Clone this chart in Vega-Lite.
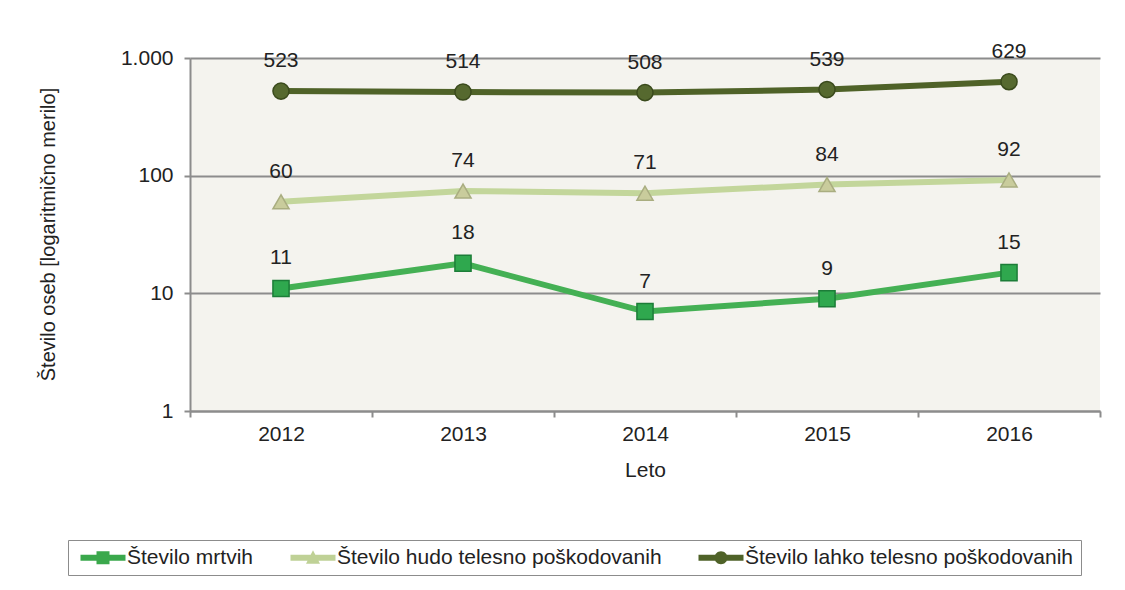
{
  "$schema": "https://vega.github.io/schema/vega-lite/v6.json",
  "autosize": "none",
  "width": 910,
  "height": 353,
  "padding": {"left": 190, "top": 58, "right": 25, "bottom": 179},
  "background": "white",
  "config": {
    "view": {"fill": "#f4f3ee", "stroke": null},
    "font": "Liberation Sans"
  },
  "data": {
    "values": [
      {"leto": "2012", "serija": "Število mrtvih", "vrednost": 11},
      {"leto": "2013", "serija": "Število mrtvih", "vrednost": 18},
      {"leto": "2014", "serija": "Število mrtvih", "vrednost": 7},
      {"leto": "2015", "serija": "Število mrtvih", "vrednost": 9},
      {"leto": "2016", "serija": "Število mrtvih", "vrednost": 15},
      {"leto": "2012", "serija": "Število hudo telesno poškodovanih", "vrednost": 60},
      {"leto": "2013", "serija": "Število hudo telesno poškodovanih", "vrednost": 74},
      {"leto": "2014", "serija": "Število hudo telesno poškodovanih", "vrednost": 71},
      {"leto": "2015", "serija": "Število hudo telesno poškodovanih", "vrednost": 84},
      {"leto": "2016", "serija": "Število hudo telesno poškodovanih", "vrednost": 92},
      {"leto": "2012", "serija": "Število lahko telesno poškodovanih", "vrednost": 523},
      {"leto": "2013", "serija": "Število lahko telesno poškodovanih", "vrednost": 514},
      {"leto": "2014", "serija": "Število lahko telesno poškodovanih", "vrednost": 508},
      {"leto": "2015", "serija": "Število lahko telesno poškodovanih", "vrednost": 539},
      {"leto": "2016", "serija": "Število lahko telesno poškodovanih", "vrednost": 629}
    ]
  },
  "encoding": {
    "x": {
      "field": "leto", "type": "nominal",
      "scale": {"paddingInner": 0, "paddingOuter": 0},
      "axis": {
        "title": "Leto", "labelAngle": 0, "tickBand": "extent",
        "domainColor": "#8c8c8c", "domainWidth": 2, "tickColor": "#8c8c8c", "tickWidth": 2, "tickSize": 6,
        "labelFontSize": 21, "labelColor": "#222222", "labelPadding": 6,
        "titleFontSize": 21, "titleFontWeight": "normal", "titleColor": "#222222",
        "titleY": 59, "titleBaseline": "middle"
      }
    },
    "y": {
      "field": "vrednost", "type": "quantitative",
      "scale": {"type": "log", "domain": [1, 1000]},
      "axis": {
        "title": "Število  oseb [logaritmično merilo]",
        "values": [1, 10, 100, 1000],
        "labelExpr": "datum.value == 1000 ? '1.000' : datum.label",
        "grid": true, "gridColor": "#8c8c8c", "gridWidth": 2,
        "domainColor": "#8c8c8c", "domainWidth": 2, "tickColor": "#8c8c8c", "tickWidth": 2, "tickSize": 6,
        "labelFontSize": 21, "labelColor": "#222222", "labelPadding": 11,
        "titleFontSize": 20, "titleFontWeight": "normal", "titleColor": "#222222",
        "titleX": -142, "titleY": 176, "titleBaseline": "middle"
      }
    }
  },
  "layer": [
    {
      "mark": {"type": "line", "strokeWidth": 6},
      "encoding": {
        "color": {
          "field": "serija", "type": "nominal",
          "scale": {
            "domain": ["Število mrtvih", "Število hudo telesno poškodovanih", "Število lahko telesno poškodovanih"],
            "range": ["#44b054", "#c3d69b", "#4f6228"]
          },
          "legend": {
            "title": null, "orient": "none", "legendX": -122, "legendY": 482,
            "direction": "horizontal",
            "strokeColor": "#8c8c8c", "padding": 7, "columnPadding": 31,
            "labelFontSize": 21, "labelColor": "#222222", "labelOffset": 31, "labelLimit": 0,
            "symbolSize": 100, "symbolStrokeWidth": 0, "symbolType": "square",
            "encode": {
              "symbols": {
                "update": {
                  "shape": {"signal": "datum.value === 'Število mrtvih' ? 'M-1,-0.6H8V0.6H-1Z M2.2,-1.3H4.8V1.3H2.2Z' : datum.value === 'Število hudo telesno poškodovanih' ? 'M-1,-0.6H8V0.6H-1Z M3.5,-1.5L4.9,1.2H2.1Z' : 'M-1,-0.6H8V0.6H-1Z M2.2,0A1.3,1.3 0 1,1 4.8,0A1.3,1.3 0 1,1 2.2,0Z'"},
                  "fill": {"signal": "datum.value === 'Število mrtvih' ? '#3aa84c' : datum.value === 'Število hudo telesno poškodovanih' ? '#bfd196' : '#4f6228'"},
                  "fillOpacity": {"value": 1},
                  "strokeWidth": {"value": 0}
                }
              }
            }
          }
        }
      }
    },
    {
      "transform": [{"filter": "datum.serija === 'Število mrtvih'"}],
      "mark": {"type": "point", "shape": "square", "filled": true, "size": 260, "fill": "#2fa84e", "stroke": "#1c7d38", "strokeWidth": 1.5, "opacity": 1}
    },
    {
      "transform": [{"filter": "datum.serija === 'Število hudo telesno poškodovanih'"}],
      "mark": {"type": "point", "shape": "triangle-up", "filled": true, "size": 260, "fill": "#c9cc9c", "stroke": "#a9ad80", "strokeWidth": 1.5, "opacity": 1}
    },
    {
      "transform": [{"filter": "datum.serija === 'Število lahko telesno poškodovanih'"}],
      "mark": {"type": "point", "shape": "circle", "filled": true, "size": 260, "fill": "#56692f", "stroke": "#3a4a1c", "strokeWidth": 1.5, "opacity": 1}
    },
    {
      "mark": {"type": "text", "dy": -30, "fontSize": 21, "color": "#222222"},
      "encoding": {
        "text": {"field": "vrednost", "type": "quantitative"}
      }
    }
  ]
}
